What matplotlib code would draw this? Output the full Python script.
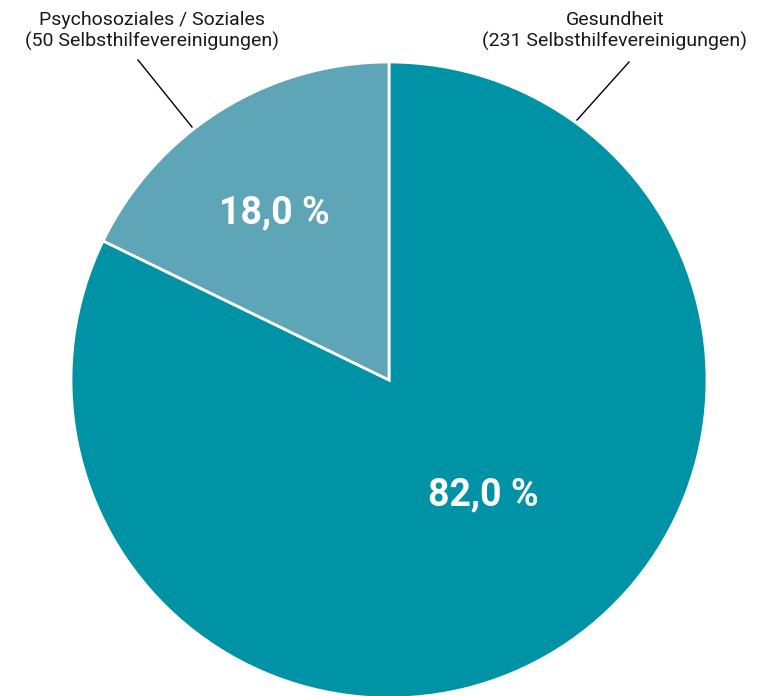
import matplotlib
matplotlib.use("Agg")
import matplotlib.pyplot as plt

# Daten
kategorien = ["Gesundheit", "Psychosoziales / Soziales"]
anzahl = [231, 50]
prozent = ["82,0 %", "18,0 %"]
farben = ["#0093a6", "#5ea6b7"]

plt.rcParams['font.family'] = ['Roboto', 'DejaVu Sans']

fig = plt.figure(figsize=(7.65, 6.96), dpi=100)
ax = fig.add_axes([0, 0, 1, 1])

cx, cy, r = 389, 316, 318
wedges, _ = ax.pie(anzahl, colors=farben, startangle=90, counterclock=False,
                   center=(cx, cy), radius=r,
                   wedgeprops=dict(edgecolor='white', linewidth=2))
ax.set_xlim(0, 765)
ax.set_ylim(0, 696)
ax.set_aspect('equal')
ax.axis('off')

# Prozentwerte
ax.text(483, 696 - 495, prozent[0], color='white', fontsize=27, fontweight='bold',
        ha='center', va='center')
ax.text(274, 696 - 213, prozent[1], color='white', fontsize=27, fontweight='bold',
        ha='center', va='center')

# Beschriftungen mit Linien
ax.text(615, 696 - 31, "Gesundheit\n(231 Selbsthilfevereinigungen)", fontsize=14,
        ha='center', va='center', linespacing=1.2, color='#1a1a1a')
ax.plot([629, 577], [696 - 62, 696 - 120], color='black', lw=1)

ax.text(152, 696 - 31, "Psychosoziales / Soziales\n(50 Selbsthilfevereinigungen)", fontsize=14,
        ha='center', va='center', linespacing=1.2, color='#1a1a1a')
ax.plot([138, 192], [696 - 60, 696 - 127], color='black', lw=1)

fig.savefig("out.png", dpi=100)
